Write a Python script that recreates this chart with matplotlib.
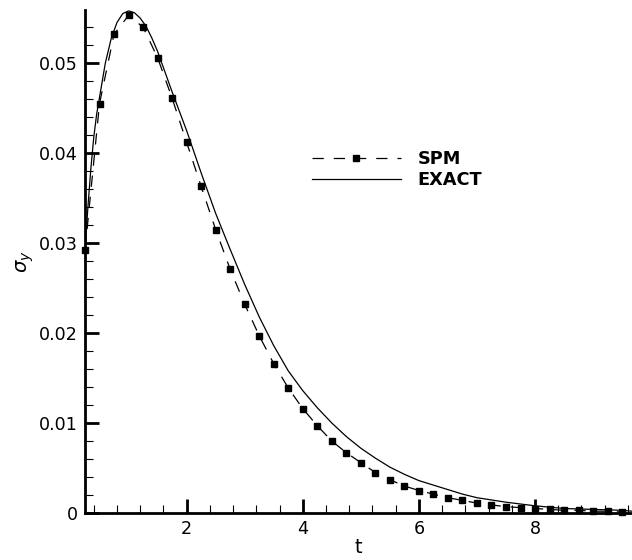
import matplotlib
matplotlib.use("Agg")
import matplotlib.pyplot as plt
from matplotlib.ticker import MultipleLocator, FuncFormatter

plt.rcParams['font.family'] = ['DejaVu Sans']
plt.rcParams['mathtext.fontset'] = 'dejavusans'

# SPM solution (sampled every 0.25)
t_spm = [0.25, 0.5, 0.75, 1.0, 1.25, 1.5, 1.75, 2.0, 2.25, 2.5, 2.75, 3.0,
         3.25, 3.5, 3.75, 4.0, 4.25, 4.5, 4.75, 5.0, 5.25, 5.5, 5.75, 6.0,
         6.25, 6.5, 6.75, 7.0, 7.25, 7.5, 7.75, 8.0, 8.25, 8.5, 8.75, 9.0,
         9.25, 9.5]
sigma_spm = [0.0292, 0.0455, 0.0532, 0.0553, 0.0540, 0.0506, 0.0461, 0.0412,
             0.0363, 0.0315, 0.0271, 0.0232, 0.0197, 0.0166, 0.0139, 0.0116,
             0.0097, 0.0080, 0.0067, 0.0056, 0.0045, 0.0037, 0.0030, 0.0025,
             0.0021, 0.0017, 0.0014, 0.0011, 0.0009, 0.0007, 0.0006, 0.0005,
             0.0004, 0.0003, 0.0003, 0.0002, 0.0002, 0.0001]

# exact solution
t_exact = [0.25, 0.3, 0.35, 0.4, 0.45, 0.5, 0.6, 0.7, 0.8, 0.9, 1.0, 1.1,
           1.2, 1.3, 1.4, 1.5, 1.75, 2.0, 2.25, 2.5, 2.75, 3.0, 3.25, 3.5,
           3.75, 4.0, 4.25, 4.5, 4.75, 5.0, 5.25, 5.5, 5.75, 6.0, 6.25, 6.5,
           6.75, 7.0, 7.5, 8.0, 8.5, 9.0, 9.5, 9.67]
sigma_exact = [0.0292, 0.0340, 0.0382, 0.0417, 0.0443, 0.0462, 0.0500, 0.0527,
               0.0545, 0.0555, 0.0558, 0.0556, 0.0550, 0.0541, 0.0528, 0.0513,
               0.0468, 0.0425, 0.0378, 0.0333, 0.0293, 0.0254, 0.0218, 0.0186,
               0.0158, 0.0136, 0.0117, 0.0100, 0.0085, 0.0072, 0.0061, 0.0051,
               0.0043, 0.0036, 0.0031, 0.0026, 0.0021, 0.0017, 0.0012, 0.0008,
               0.0005, 0.0004, 0.0003, 0.0002]

fig = plt.figure(figsize=(6.32, 5.6), dpi=100)
ax = fig.add_axes([85 / 632, 47 / 560, 547 / 632, 503 / 560])

ax.plot(t_spm, sigma_spm, color='black', lw=0.9, linestyle=(0, (9, 8)),
        marker='s', ms=4.6, clip_on=False, label='SPM')
ax.plot(t_exact, sigma_exact, color='black', lw=0.9, label='EXACT')

ax.set_xlim(0.25, 9.67)
ax.set_ylim(0, 0.0559)

ax.spines['top'].set_visible(False)
ax.spines['right'].set_visible(False)
ax.spines['left'].set_linewidth(2.0)
ax.spines['bottom'].set_linewidth(2.0)

ax.xaxis.set_major_locator(MultipleLocator(2))
ax.xaxis.set_minor_locator(MultipleLocator(0.4))
ax.yaxis.set_major_locator(MultipleLocator(0.01))
ax.yaxis.set_minor_locator(MultipleLocator(0.002))
ax.yaxis.set_major_formatter(FuncFormatter(
    lambda v, p: '0' if abs(v) < 1e-12 else '%.2f' % v))

ax.tick_params(which='major', direction='in', length=10, width=2.0,
               labelsize=12.6, pad=5)
ax.tick_params(which='minor', direction='in', length=5.5, width=0.8)

ax.set_xlabel('t', fontsize=14, labelpad=0)
ax.set_ylabel(r'$\sigma_y$', fontsize=14, labelpad=2)

leg = ax.legend(loc='upper left', bbox_to_anchor=(0.415, 0.722),
                frameon=False, numpoints=1, handlelength=5.0,
                handletextpad=0.95, labelspacing=0.2, borderpad=0,
                borderaxespad=0, prop={'size': 12.8, 'weight': 'bold'})

fig.savefig('out.png', dpi=100)
